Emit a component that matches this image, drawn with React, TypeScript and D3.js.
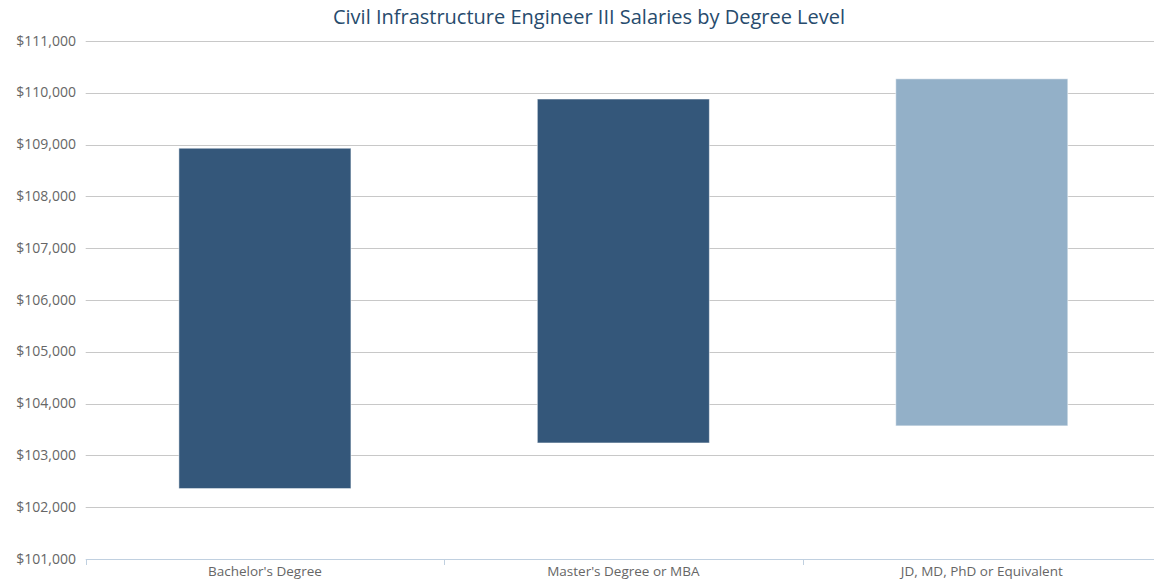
import React from "react";
import * as d3 from "d3";

const categories = ["Bachelor's Degree", "Master's Degree or MBA", "JD, MD, PhD or Equivalent"];
const lowValues = [102360, 103240, 103570];
const highValues = [108930, 109880, 110270];
const barColors = ["#34577a", "#34577a", "#93b0c8"];
const yTicks = [101000, 102000, 103000, 104000, 105000, 106000, 107000, 108000, 109000, 110000, 111000];

const W = 1154;
const H = 584;
const left = 85.7;
const right = 1161;
const top = 41;
const bottom = 559;

export default function App() {
  const x = d3.scaleBand<string>().domain(categories).range([left, right]).paddingInner(0.52).paddingOuter(0.26);
  const y = d3.scaleLinear().domain([101000, 111000]).range([bottom, top]);
  const fmt = (v: number) => "$" + d3.format(",")(v);
  const step = (right - left) / categories.length;
  const font = "'Open Sans', 'DejaVu Sans', sans-serif";

  return (
    <svg width={W} height={H} style={{ position: "absolute", left: 0, top: 0, background: "#fff" }}>
      <text x={589} y={24} textAnchor="middle" fontFamily={font} fontSize={20} fill="#274b6d">
        Civil Infrastructure Engineer III Salaries by Degree Level
      </text>
      {yTicks.map((t) => (
        <g key={t}>
          {t !== 101000 && (
            <line x1={left} x2={W} y1={Math.round(y(t)) + 0.5} y2={Math.round(y(t)) + 0.5} stroke="#c8c8c8" strokeWidth={1} />
          )}
          <text x={76} y={y(t) + 4.5} textAnchor="end" fontFamily={font} fontSize={14} fill="#666">
            {fmt(t)}
          </text>
        </g>
      ))}
      <line x1={left} x2={W} y1={bottom + 0.5} y2={bottom + 0.5} stroke="#c0d0e0" strokeWidth={1} />
      {d3.range(categories.length).map((i) => (
        <line key={i} x1={Math.round(left + i * step) + 0.5} x2={Math.round(left + i * step) + 0.5} y1={bottom} y2={bottom + 6} stroke="#c0d0e0" strokeWidth={1} />
      ))}
      {categories.map((c, i) => (
        <rect
          key={c}
          x={x(c)!}
          y={y(highValues[i])}
          width={x.bandwidth()}
          height={y(lowValues[i]) - y(highValues[i])}
          fill={barColors[i]}
          stroke="#ffffff"
          strokeOpacity={0.5}
          strokeWidth={1}
        />
      ))}
      {categories.map((c) => (
        <text key={c} x={x(c)! + x.bandwidth() / 2} y={576} textAnchor="middle" fontFamily={font} fontSize={13.5} fill="#666">
          {c}
        </text>
      ))}
    </svg>
  );
}
